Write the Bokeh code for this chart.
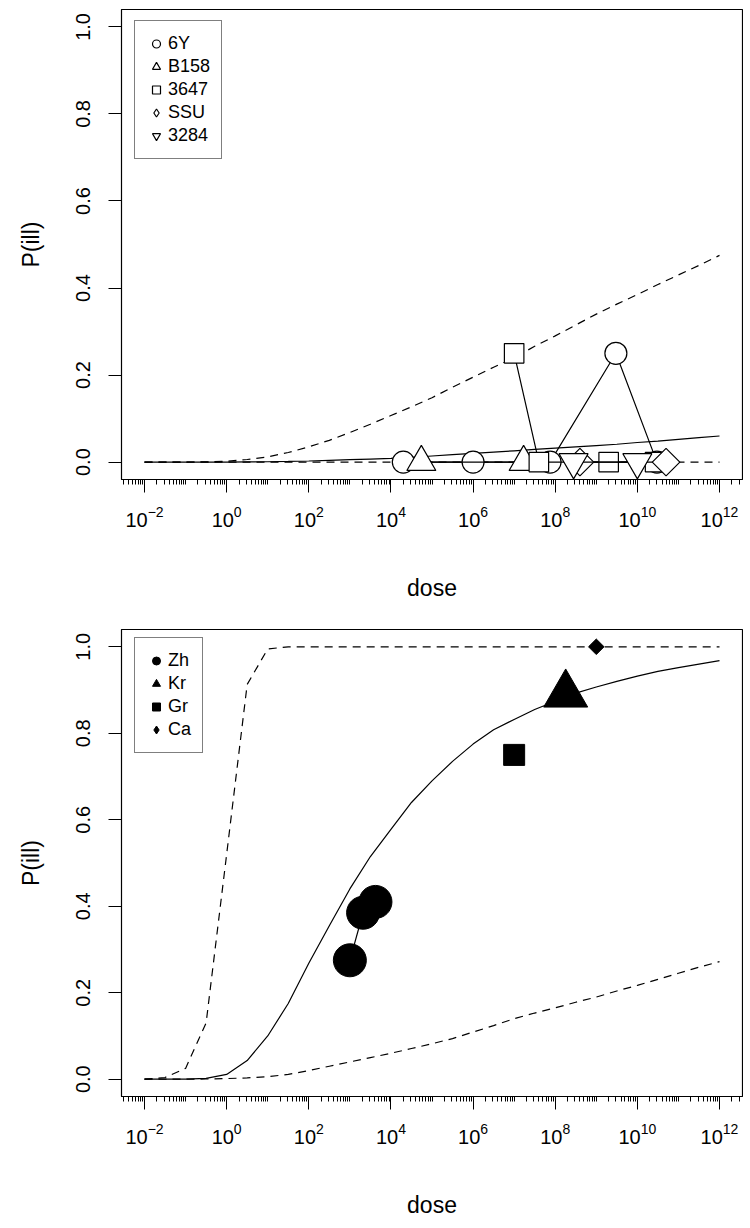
import numpy as np
from bokeh.plotting import figure
from bokeh.layouts import column
from bokeh.models import Range1d, FixedTicker, PrintfTickFormatter, Legend, LegendItem
from bokeh.embed import file_html
from bokeh.resources import INLINE

FONT = "Liberation Sans"

# ---------------- data ----------------
# curve grid: log10(dose) in half-decade steps
curve_exp = [-2.0, -1.5, -1.0, -0.5, 0.0, 0.5, 1.0, 1.5, 2.0, 2.5, 3.0, 3.5, 4.0, 4.5,
             5.0, 5.5, 6.0, 6.5, 7.0, 7.5, 8.0, 8.5, 9.0, 9.5, 10.0, 10.5, 11.0, 11.5, 12.0]

# top panel curves
top_fit = [0, 0, 0, 0, 0, 0.0003, 0.0008, 0.0015, 0.0025, 0.004, 0.0055, 0.007, 0.0085, 0.011,
           0.014, 0.017, 0.020, 0.023, 0.026, 0.029, 0.032, 0.035, 0.038, 0.041, 0.045, 0.048,
           0.052, 0.056, 0.060]
top_upper = [0, 0, 0, 0.0005, 0.002, 0.006, 0.012, 0.022, 0.035, 0.050, 0.068, 0.087, 0.107,
             0.127, 0.148, 0.172, 0.195, 0.218, 0.240, 0.266, 0.290, 0.315, 0.340, 0.363,
             0.385, 0.408, 0.430, 0.452, 0.475]
top_lower = [0] * 29

# top panel observations
dose_6Y = [2e4, 1e6, 7.5e7, 3e9, 3e10]
ill_6Y = [0, 0, 0, 0.25, 0]
dose_B158 = [5.5e4, 1.7e7]
ill_B158 = [0, 0]
dose_3647 = [1e7, 4e7, 2e9, 2.7e10]
ill_3647 = [0.25, 0, 0, 0]
dose_SSU = [4e8, 5e10]
ill_SSU = [0, 0]
dose_3284 = [2.8e8, 1e10]
ill_3284 = [0, 0]

# bottom panel curves
bot_fit = [0, 0, 0, 0.002, 0.011, 0.043, 0.100, 0.175, 0.268, 0.355, 0.440, 0.515, 0.578,
           0.640, 0.690, 0.735, 0.775, 0.808, 0.832, 0.855, 0.874, 0.893, 0.907, 0.920,
           0.932, 0.943, 0.952, 0.960, 0.968]
bot_upper = [0, 0.004, 0.025, 0.13, 0.52, 0.913, 0.995, 1, 1, 1, 1, 1, 1, 1, 1, 1, 1, 1, 1,
             1, 1, 1, 1, 1, 1, 1, 1, 1, 1]
bot_lower = [0, 0, 0, 0.0005, 0.0015, 0.003, 0.006, 0.011, 0.020, 0.030, 0.040, 0.050, 0.060,
             0.071, 0.082, 0.094, 0.109, 0.124, 0.140, 0.153, 0.165, 0.178, 0.190, 0.204,
             0.217, 0.231, 0.245, 0.259, 0.272]

# bottom panel observations
dose_Zh = [1e3, 2.1e3, 4.2e3]
ill_Zh = [0.275, 0.385, 0.41]
dose_Kr = [1.8e8]
ill_Kr = [0.89]
dose_Gr = [1e7]
ill_Gr = [0.75]
dose_Ca = [1e9]
ill_Ca = [1.0]

x_major_exp = [-2, 0, 2, 4, 6, 8, 10, 12]
y_ticks = [0.0, 0.2, 0.4, 0.6, 0.8, 1.0]

curve_dose = [10 ** e for e in curve_exp]


def make_fig(height, border_top, border_bottom):
    p = figure(width=743, height=height, x_axis_type="log",
               x_range=Range1d(10 ** -2.56, 10 ** 12.56), y_range=Range1d(-0.04, 1.04),
               output_backend="svg", toolbar_location=None,
               min_border_left=121, min_border_right=1,
               min_border_top=border_top, min_border_bottom=border_bottom)
    p.xgrid.grid_line_color = None
    p.ygrid.grid_line_color = None
    p.outline_line_color = "black"
    p.outline_line_width = 1.2
    p.background_fill_color = "white"
    p.border_fill_color = "white"

    xa = p.xaxis[0]
    xa.ticker = FixedTicker(ticks=[10.0 ** e for e in x_major_exp],
                            minor_ticks=[m * 10.0 ** k for k in range(-3, 13) for m in range(1, 10)])
    xa.axis_label = "dose"
    ya = p.yaxis[0]
    ya.ticker = FixedTicker(ticks=y_ticks)
    ya.formatter = PrintfTickFormatter(format="%.1f")
    ya.axis_label = "P(ill)"
    ya.major_label_orientation = "vertical"

    for ax in (xa, ya):
        ax.axis_line_color = "black"
        ax.major_tick_line_color = "black"
        ax.major_tick_in = 0
        ax.major_tick_out = 13
        ax.minor_tick_in = 0
        ax.minor_tick_out = 5
        ax.major_label_text_font = FONT
        ax.major_label_text_font_size = "20px"
        ax.major_label_text_color = "black"
        ax.axis_label_text_font = FONT
        ax.axis_label_text_font_size = "23px"
        ax.axis_label_text_font_style = "normal"
        ax.axis_label_text_color = "black"
    xa.minor_tick_line_color = "black"
    ya.minor_tick_line_color = None
    xa.major_label_standoff = 13
    xa.axis_label_standoff = 45
    ya.major_label_standoff = 18
    ya.axis_label_standoff = 30
    return p


def add_legend(p, items, loc):
    leg = Legend(items=items, location=loc, orientation="vertical",
                 label_text_font=FONT, label_text_font_size="18px", label_text_color="black",
                 border_line_color="black", border_line_width=1,
                 background_fill_color="white", background_fill_alpha=1.0,
                 glyph_width=20, glyph_height=23, label_height=23, spacing=0,
                 padding=11, margin=0, label_standoff=2)
    p.add_layout(leg, "center")


LW = 1.2
DASH = "8 6"

# ---------------- top panel ----------------
p1 = make_fig(614, 9, 135)
p1.line(curve_dose, top_fit, line_color="black", line_width=LW)
p1.line(curve_dose, top_upper, line_color="black", line_width=LW, line_dash=DASH)
p1.line(curve_dose, top_lower, line_color="black", line_width=LW, line_dash=DASH)

series_top = [
    ("6Y", dose_6Y, ill_6Y, "circle", 22, 0),
    ("B158", dose_B158, ill_B158, "triangle", 29, 0),
    ("3647", dose_3647, ill_3647, "square", 19.5, 0),
    ("SSU", dose_SSU, ill_SSU, "square", 19.5, np.pi / 4),
    ("3284", dose_3284, ill_3284, "inverted_triangle", 29, 0),
]
items1 = []
for name, xs, ys, mk, sz, ang in series_top:
    p1.line(xs, ys, line_color="black", line_width=LW)
    r = p1.scatter(xs, ys, marker=mk, size=sz, angle=ang, fill_color="white",
                   line_color="black", line_width=LW)
    if ang:
        # legend proxy (legend glyphs ignore rotation)
        r = p1.scatter(xs, ys, marker="diamond", size=sz, fill_color="white",
                       line_color="black", line_width=LW, visible=False)
    items1.append(LegendItem(label=name, renderers=[r]))
add_legend(p1, items1, (13, 320))

# ---------------- bottom panel ----------------
p2 = make_fig(606, 15, 117)
p2.line(curve_dose, bot_fit, line_color="black", line_width=LW)
p2.line(curve_dose, bot_upper, line_color="black", line_width=LW, line_dash=DASH)
p2.line(curve_dose, bot_lower, line_color="black", line_width=LW, line_dash=DASH)

series_bot = [
    ("Zh", dose_Zh, ill_Zh, "circle", 33, 0),
    ("Kr", dose_Kr, ill_Kr, "triangle", 44, 0),
    ("Gr", dose_Gr, ill_Gr, "square", 21, 0),
    ("Ca", dose_Ca, ill_Ca, "square", 11, np.pi / 4),
]
items2 = []
for name, xs, ys, mk, sz, ang in series_bot:
    if len(xs) > 1:
        p2.line(xs, ys, line_color="black", line_width=LW)
    r = p2.scatter(xs, ys, marker=mk, size=sz, angle=ang, fill_color="black",
                   line_color="black", line_width=1)
    if ang:
        r = p2.scatter(xs, ys, marker="diamond", size=sz, fill_color="black",
                       line_color="black", line_width=1, visible=False)
    items2.append(LegendItem(label=name, renderers=[r]))
add_legend(p2, items2, (13, 343))

layout = column(p1, p2, spacing=0)
open("out.html", "w").write(file_html(layout, INLINE))
